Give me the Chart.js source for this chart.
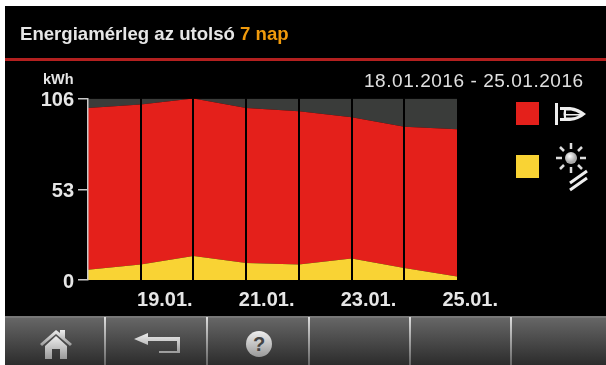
<!DOCTYPE html>
<html lang="hu">
<head>
<meta charset="UTF-8">
<title>Energiamérleg</title>
<script src="https://cdn.jsdelivr.net/npm/chart.js"></script>
<style>
    html, body { margin: 0; background: #fff; }
    body { width: 606px; height: 365px; overflow: hidden; position: relative; font-family: "Liberation Sans", Arial, sans-serif; }
    #screen { position: absolute; left: 5px; top: 6px; width: 601px; height: 359px; background: #000; }
    #myChart { position: absolute; left: 0; top: 0; }
    .txt { position: absolute; white-space: nowrap; }
    #title { left: 20px; top: 24px; font-size: 18.6px; font-weight: bold; color: #e6e6e6; line-height: 20px; }
    #title span { color: #f09a0c; }
    #redline { position: absolute; left: 5px; top: 58px; width: 601px; height: 3px; background: #b3201f; }
    #range { left: 364px; top: 71px; font-size: 19px; letter-spacing: 0.55px; color: #e0e0e0; line-height: 20px; }
    #unit { left: 43px; top: 72px; font-size: 14.5px; font-weight: bold; color: #e6e6e6; line-height: 15px; }
    .swatch { position: absolute; left: 516px; width: 23px; height: 23px; }
    svg { position: absolute; }
    #footer { position: absolute; left: 5px; top: 316px; width: 601px; height: 49px; border-top: 2px solid #777; box-sizing: border-box; background: linear-gradient(#666, #2c2c2c); }
    .sep { position: absolute; top: 317px; width: 2px; height: 48px; background: linear-gradient(#ddd, #666); }
</style>
</head>
<body>
<div id="screen"></div>
<canvas id="myChart" width="606" height="316"></canvas>
<div class="txt" id="title">Energiamérleg az utolsó <span>7 nap</span></div>
<div id="redline"></div>
<div class="txt" id="range">18.01.2016 - 25.01.2016</div>
<div class="txt" id="unit">kWh</div>

<div class="swatch" style="top:102px;background:#e4201b"></div>
<div class="swatch" style="top:155px;background:#f9d334"></div>
<svg style="left:554px;top:101px" width="32" height="26" viewBox="0 0 32 26">
    <rect x="1" y="2" width="3" height="22" fill="#eee"/>
    <path d="M6 6 H16 Q25 7 32 13 Q25 19 16 20 H6 V17 H10 Q9 13 10 9 H6 Z" fill="#eee"/>
    <path d="M12 9.5 H17 Q22 10 26 13 H12 Z" fill="#000"/>
    <path d="M12 14.5 H25 Q21 16.5 17 16.5 H12 Z" fill="#000"/>
</svg>
<svg style="left:553px;top:141px" width="36" height="54" viewBox="0 0 36 54">
    <defs><radialGradient id="sun" cx="0.4" cy="0.35"><stop offset="0" stop-color="#fff"/><stop offset="1" stop-color="#aaa"/></radialGradient></defs>
    <circle cx="18" cy="17" r="6" fill="url(#sun)"/>
    <g stroke="#ddd" stroke-width="2.5">
        <path d="M18 2 V8 M18 26 V32 M3 17 H9 M27 17 H33 M7 6 L11 10 M25 24 L29 28 M29 6 L25 10 M11 24 L7 28"/>
    </g>
    <g stroke="#eee" stroke-width="3">
        <path d="M17 42 L34 30 M17 49 L34 37"/>
    </g>
</svg>

<div id="footer"></div>
<div class="sep" style="left:104px"></div>
<div class="sep" style="left:206px"></div>
<div class="sep" style="left:308px"></div>
<div class="sep" style="left:409px"></div>
<div class="sep" style="left:510px"></div>
<svg style="left:38px;top:328px" width="36" height="32" viewBox="0 0 36 32">
    <defs><linearGradient id="ic" x1="0" y1="0" x2="0" y2="1"><stop offset="0" stop-color="#eee"/><stop offset="1" stop-color="#999"/></linearGradient></defs>
    <path d="M2 16 L18 2 L22 5 V2 H27 V10 L34 16 L32 18 L18 6 L4 18 Z" fill="url(#ic)"/>
    <path d="M7 18 L18 8 L29 18 V31 H22 V21 H14 V31 H7 Z" fill="url(#ic)"/>
</svg>
<svg style="left:132px;top:331px" width="52" height="26" viewBox="0 0 52 26">
    <path d="M2 8 L16 2 V6 H48 V22 H27 V20 H45 V10 H16 V14 Z" fill="url(#ic)"/>
</svg>
<svg style="left:245px;top:330px" width="28" height="28" viewBox="0 0 28 28">
    <circle cx="14" cy="14" r="13" fill="url(#ic)"/>
    <text x="14" y="21" text-anchor="middle" font-family="Liberation Sans" font-weight="bold" font-size="20" fill="#444">?</text>
</svg>

<script>
    const days = [18, 19, 20, 21, 22, 23, 24, 25];
    const solarValues = [6, 9, 14, 10, 9, 12.5, 7, 2];
    const heatingValues = [94.5, 93.5, 92, 90.5, 89.5, 82.5, 82.5, 86];
    const restValues = [5.5, 3.5, 0, 5.5, 7.5, 11, 16.5, 18];
    const tickDays = [19, 21, 23, 25];
    const yTicks = [0, 53, 106];

    function points(values) {
        return values.map((v, i) => ({ x: days[i], y: v }));
    }

    function series(label, values, color, fill) {
        return { label: label, data: points(values), backgroundColor: color, borderWidth: 0, pointRadius: 0, tension: 0, fill: fill };
    }

    new Chart(document.getElementById('myChart'), {
        type: 'line',
        data: {
            datasets: [
                series('Szolár', solarValues, '#f9d334', 'origin'),
                series('Fűtés', heatingValues, '#e4201b', '-1'),
                series('Maradék', restValues, '#3a3c3a', '-1')
            ]
        },
        options: {
            responsive: false,
            animation: false,
            layout: { padding: { top: 98.5, right: 149, left: 0, bottom: 0 } },
            plugins: { legend: { display: false }, tooltip: { enabled: false } },
            scales: {
                x: {
                    type: 'linear',
                    position: 'bottom',
                    min: 18,
                    max: 25,
                    afterBuildTicks: (axis) => { axis.ticks = days.map(d => ({ value: d })); },
                    afterFit: (axis) => { axis.height = 0; },
                    grid: {
                        z: 1,
                        lineWidth: 2,
                        drawTicks: false,
                        color: (c) => (c.tick && (c.tick.value === 18 || c.tick.value === 25)) ? 'rgba(0,0,0,0)' : '#000'
                    },
                    border: { display: false },
                    ticks: { display: false }
                },
                // date labels sit right of the day lines in the original, own axis for that
                dates: {
                    type: 'linear',
                    position: 'bottom',
                    min: 17.49,
                    max: 24.74,
                    afterBuildTicks: (axis) => { axis.ticks = tickDays.map(d => ({ value: d })); },
                    afterFit: (axis) => { axis.height = 36; },
                    grid: { display: false },
                    border: { display: false },
                    ticks: {
                        autoSkip: false,
                        maxRotation: 0,
                        padding: 0,
                        color: '#e6e6e6',
                        font: { family: '"Liberation Sans"', size: 20, weight: 'bold' },
                        callback: (v) => v + '.01.'
                    }
                },
                y: {
                    stacked: true,
                    min: 0,
                    max: 106,
                    afterBuildTicks: (axis) => { axis.ticks = yTicks.map(v => ({ value: v })); },
                    afterFit: (axis) => { axis.width = 88; },
                    grid: { drawOnChartArea: false, tickLength: 10, lineWidth: 1.5, color: '#c8c8c8' },
                    border: { color: '#c8c8c8', width: 1.5, z: 2 },
                    ticks: {
                        padding: 4,
                        labelOffset: 2,
                        color: '#e6e6e6',
                        font: { family: '"Liberation Sans"', size: 20, weight: 'bold' }
                    }
                }
            }
        }
    });
</script>
</body>
</html>
